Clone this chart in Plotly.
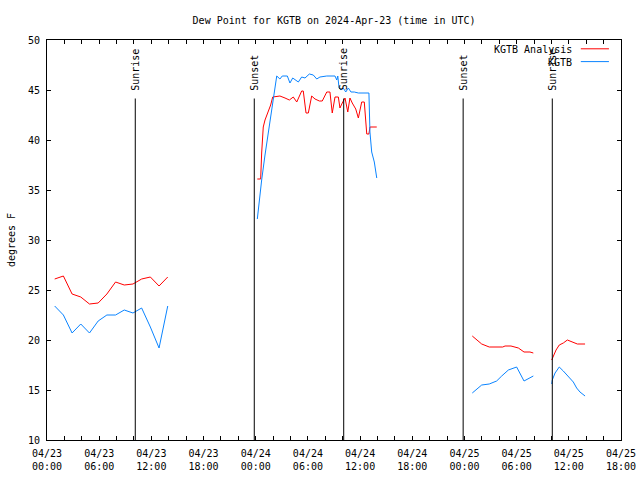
import plotly.graph_objects as go

FONT = "DejaVu Sans Mono"

# ---------------- data ----------------
# Segment 1: 2024-04-23 (hourly obs)
seg1_times = ["2024-04-23 %02d:53" % h for h in range(0, 14)]
seg1_analysis = [26.1, 26.4, 24.6, 24.3, 23.6, 23.7, 24.6, 25.8, 25.5, 25.6, 26.1, 26.3, 25.4, 26.3]
seg1_obs = [23.4, 22.5, 20.7, 21.6, 20.7, 21.9, 22.5, 22.5, 23.0, 22.7, 23.2, 21.3, 19.2, 23.4]

# Segment 2: 2024-04-24 early
seg2_ana_times = ["00:11", "00:34", "00:41", "00:52", "01:04", "01:27", "01:43", "01:57", "02:47",
                  "03:22", "03:52", "04:19", "04:43", "05:17", "05:28", "05:47", "06:03", "06:26",
                  "06:49", "07:19", "07:39", "08:10", "08:32", "08:48", "09:07", "09:30", "09:41",
                  "09:57", "10:16", "10:35", "10:50", "11:06", "11:30", "11:48", "12:11", "12:29",
                  "12:39", "12:46", "13:01", "13:08", "13:55"]
seg2_analysis = [36.1, 36.1, 38.7, 41.3, 42.0, 42.8, 43.5, 44.3, 44.4,
                 44.2, 44.0, 44.3, 43.8, 44.9, 44.9, 42.7, 42.7, 44.4,
                 44.1, 43.9, 43.9, 44.8, 44.8, 42.7, 44.3, 44.3, 43.2,
                 43.7, 44.2, 42.8, 44.2, 43.7, 43.1, 42.2, 43.8, 43.8,
                 41.3, 40.6, 40.6, 41.3, 41.3]
seg2_obs_times = ["00:11", "00:25", "00:41", "01:04", "01:27", "01:50", "02:06", "02:25", "02:47",
                  "03:03", "03:38", "03:56", "04:15", "04:54", "05:17", "05:40", "06:10", "06:37",
                  "07:01", "07:23", "08:10", "09:07", "09:19", "09:26", "09:35", "09:48", "10:04",
                  "10:21", "10:39", "10:57", "11:20", "11:48", "13:01", "13:08", "13:20", "13:38",
                  "13:55"]
seg2_obs = [32.1, 34.0, 36.0, 38.5, 40.7, 42.8, 44.7, 46.4, 46.1,
            46.4, 46.4, 45.7, 46.2, 45.8, 46.3, 46.2, 46.6, 46.5,
            46.1, 46.3, 46.4, 46.4, 46.0, 46.4, 45.2, 45.0, 45.2,
            44.8, 45.2, 44.8, 44.8, 44.7, 44.7, 40.8, 38.8, 37.8,
            36.2]

# Segment 3: 2024-04-25 early
seg3_ana_times = ["00:54", "01:24", "01:59", "02:51", "04:24", "04:40", "05:21", "06:12", "06:51", "07:32", "07:55"]
seg3_analysis = [20.4, 20.0, 19.6, 19.3, 19.3, 19.4, 19.4, 19.2, 18.8, 18.8, 18.7]
seg3_obs_times = ["00:54", "01:24", "01:59", "02:51", "03:42", "04:17", "05:03", "06:00", "06:51", "07:55"]
seg3_obs = [14.7, 15.1, 15.5, 15.6, 15.9, 16.4, 17.0, 17.3, 15.9, 16.4]

# Segment 4: 2024-04-25 late morning
seg4_ana_times = ["10:02", "10:13", "10:32", "10:54", "11:22", "11:50", "12:20", "12:59", "13:52"]
seg4_analysis = [18.0, 18.4, 19.0, 19.5, 19.7, 20.0, 19.8, 19.6, 19.6]
seg4_obs_times = ["10:02", "10:06", "10:25", "10:54", "11:22", "11:56", "12:31", "12:54", "13:17", "13:52"]
seg4_obs = [15.6, 16.0, 16.7, 17.3, 16.9, 16.4, 15.8, 15.2, 14.8, 14.4]

# Sun events
event_times = ["2024-04-23 10:09", "2024-04-23 23:50", "2024-04-24 10:07", "2024-04-24 23:51", "2024-04-25 10:06"]
event_labels = ["Sunrise", "Sunset", "Sunrise", "Sunset", "Sunrise"]

series_names = ["KGTB Analysis", "KGTB"]
series_colors = ["#ff0000", "#0a84ff"]


def day(d, times):
    return ["2024-04-%s %s" % (d, t) for t in times]


def join(*segs):
    out = []
    for i, s in enumerate(segs):
        if i:
            out.append(None)
        out.extend(s)
    return out


ana_x = join(seg1_times, day("24", seg2_ana_times), day("25", seg3_ana_times), day("25", seg4_ana_times))
ana_y = join(seg1_analysis, seg2_analysis, seg3_analysis, seg4_analysis)
obs_x = join(seg1_times, day("24", seg2_obs_times), day("25", seg3_obs_times), day("25", seg4_obs_times))
obs_y = join(seg1_obs, seg2_obs, seg3_obs, seg4_obs)

fig = go.Figure()
fig.add_trace(go.Scatter(x=ana_x, y=ana_y, mode="lines", name=series_names[0],
                         line=dict(color=series_colors[0], width=1), connectgaps=False,
                         showlegend=False))
fig.add_trace(go.Scatter(x=obs_x, y=obs_y, mode="lines", name=series_names[1],
                         line=dict(color=series_colors[1], width=1), connectgaps=False,
                         showlegend=False))

shapes = []
annotations = []
for t, lab in zip(event_times, event_labels):
    shapes.append(dict(type="line", xref="x", yref="y", x0=t, x1=t, y0=10, y1=44.15,
                       line=dict(color="black", width=1)))
    annotations.append(dict(x=t, y=44.75, xref="x", yref="y", text=lab, showarrow=False,
                            textangle=-90, xanchor="center", yanchor="bottom",
                            font=dict(family=FONT, size=10, color="black")))

# legend (gnuplot style: text then line sample)
leg_y = [0.976, 0.944]
for name, col, yy in zip(series_names, series_colors, leg_y):
    annotations.append(dict(x=0.918, y=yy, xref="paper", yref="paper", text=name, showarrow=False,
                            xanchor="right", yanchor="middle",
                            font=dict(family=FONT, size=10, color="black")))
    shapes.append(dict(type="line", xref="paper", yref="paper", x0=0.93, x1=0.979, y0=yy + 0.002, y1=yy + 0.002,
                       line=dict(color=col, width=1)))

fig.update_layout(
    width=640, height=480,
    margin=dict(l=47, r=19, t=40, b=40),
    paper_bgcolor="white", plot_bgcolor="white",
    font=dict(family=FONT, size=10, color="black"),
    title=dict(text="Dew Point for KGTB on 2024-Apr-23 (time in UTC)", x=0.522, xanchor="center",
               y=0.958, yanchor="middle", font=dict(family=FONT, size=10, color="black")),
    shapes=shapes, annotations=annotations,
    showlegend=False,
)
fig.update_xaxes(
    type="date", range=["2024-04-23 00:00", "2024-04-25 18:00"], automargin=False,
    tick0="2024-04-23 00:00", dtick=6 * 3600 * 1000, tickformat="%m/%d<br>%H:%M",
    ticks="inside", ticklen=4, tickcolor="black", showline=True, linecolor="black", linewidth=1,
    mirror="ticks", showgrid=False, zeroline=False, ticklabelstandoff=4,
    minor=dict(dtick=2 * 3600 * 1000, ticks="inside", ticklen=4, tickcolor="black", showgrid=False),
    tickfont=dict(family=FONT, size=10, color="black"),
)
fig.update_yaxes(
    range=[10, 50], dtick=5, ticks="inside", ticklen=4, tickcolor="black", automargin=False,
    showline=True, linecolor="black", linewidth=1, mirror="ticks", showgrid=False, zeroline=False,
    ticklabelstandoff=4,
    title=dict(text="degrees F", font=dict(family=FONT, size=10, color="black"), standoff=10),
    tickfont=dict(family=FONT, size=10, color="black"),
)

fig.write_html("out.html", config={"displayModeBar": False},
               post_script="document.body.style.margin='0';")
